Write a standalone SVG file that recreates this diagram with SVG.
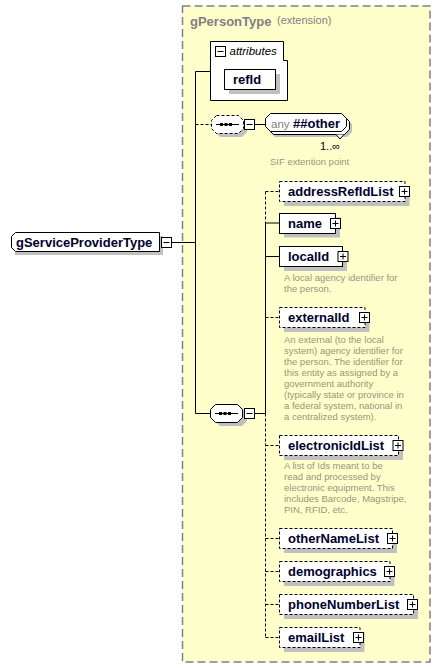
<svg xmlns="http://www.w3.org/2000/svg" width="441" height="669" viewBox="0 0 441 669">
<style>
.lbl{font-family:"Liberation Sans",Arial,sans-serif;font-size:13px;font-weight:bold;fill:#00002e}
.desc{font-family:"Liberation Sans",Arial,sans-serif;font-size:9.5px;fill:#96967a}
.box{fill:#fff;stroke:#000;stroke-width:1}
.dbox{fill:#fff;stroke:#000;stroke-width:1;stroke-dasharray:3,2}
.shadow{fill:#c0c0c0}
.ln{stroke:#000;stroke-width:1;fill:none}
.dl{stroke:#000;stroke-width:1;fill:none;stroke-dasharray:3,2}
.pm{fill:#fff;stroke:#000;stroke-width:1}
</style>
<defs>
<g id="plus"><rect class="pm" x="0.5" y="0.5" width="10" height="10"/><path d="M2.5,5.5H8.5M5.5,2.5V8.5" stroke="#000" stroke-width="1"/></g>
<g id="minus"><rect class="pm" x="0.5" y="0.5" width="10" height="10"/><path d="M2.5,5.5H8.5" stroke="#000" stroke-width="1"/></g>
</defs>

<g id="gPersonType">
<rect x="182.5" y="6" width="247.5" height="656" fill="#ffffcc" stroke="#808080" stroke-width="1.5" stroke-dasharray="8,4"/>
<text x="190" y="26" font-family="Liberation Sans,Arial,sans-serif" font-size="13" font-weight="bold" fill="#808080">gPersonType</text>
<text x="277" y="24" font-family="Liberation Sans,Arial,sans-serif" font-size="11" fill="#808080">(extension)</text>
</g>

<g id="connectors">
<path class="ln" d="M171,242.5H195.5M195.5,71.5V413.5M195.5,71.5H210.5M195.5,413.5H211M255,413.5H265.5M255,124.5H265.5"/>
<path class="dl" d="M195.5,124.5H211"/>
<path class="dl" d="M265.5,191.5V223"/>
<path class="ln" d="M265.5,223V413.5"/>
<path class="dl" d="M265.5,413.5V637.5"/>
<path class="dl" d="M265.5,191.5H279.5"/>
<path class="ln" d="M265.5,223H279.5M265.5,256.5H279.5"/>
<path class="dl" d="M265.5,317.5H279.5M265.5,445.5H279.5M265.5,538.5H279.5M265.5,571.5H279.5M265.5,604.5H279.5M265.5,637.5H279.5"/>
</g>

<g id="gServiceProviderType">
<path class="shadow" d="M19,236H163V255H15V240Z"/>
<path class="box" d="M15.5,232.5H159.5V251.5H15.5L11.5,247.5V236.5Z"/>
<text class="lbl" x="16" y="246.5">gServiceProviderType</text>
<use href="#minus" x="161" y="237"/>
</g>

<g id="attributes">
<path class="box" d="M210.5,41.5H283.5V60.5H287.5V100.5H210.5Z"/>
<use href="#minus" x="215" y="46"/>
<text x="229.5" y="55" font-family="Liberation Sans,Arial,sans-serif" font-size="11.5" font-style="italic" fill="#000">attributes</text>
</g>

<g id="refId">
<rect class="shadow" x="229" y="74" width="51" height="20"/>
<rect class="box" x="224.5" y="69.5" width="51" height="20"/>
<text class="lbl" x="233" y="84">refId</text>
</g>

<g id="sequence1">
<path class="shadow" d="M220,119H242L247,124V132L242,137H220L215,132V124Z"/>
<path class="dbox" d="M216.5,115.5H238.5L243.5,120.5V128.5L238.5,133.5H216.5L211.5,128.5V120.5Z"/>
<path d="M216,124.5H239" stroke="#000" stroke-width="1"/>
<rect x="220" y="123" width="3" height="3" fill="#000"/>
<rect x="224.5" y="123" width="3" height="3" fill="#000"/>
<rect x="229" y="123" width="3" height="3" fill="#000"/>
<use href="#minus" x="244" y="119"/>
</g>

<g id="any">
<path class="shadow" d="M275,119H347L352,124V132L347,137H275L270,132V124Z"/>
<path class="box" d="M273.5,116.5H344.5L349.5,121.5V129.5L344.5,134.5H273.5L268.5,129.5V121.5Z"/>
<path d="M336,134.5L340,139L344,134.5" fill="#fff" stroke="#000" stroke-width="1"/>
<path class="box" d="M270.5,113.5H341.5L346.5,118.5V126.5L341.5,131.5H270.5L265.5,126.5V118.5Z"/>
<text x="271" y="127.5" font-family="Liberation Sans,Arial,sans-serif" font-size="11.5" fill="#808080">any</text>
<text class="lbl" x="293" y="127.5">##other</text>
<text x="320" y="150" font-family="Liberation Sans,Arial,sans-serif" font-size="11" fill="#00002e">1..∞</text>
<text class="desc" x="270" y="165">SIF extention point</text>
</g>

<g id="sequence2">
<path class="shadow" d="M220,408H242L247,413V421L242,426H220L215,421V413Z"/>
<path class="box" d="M215.5,404.5H237.5L242.5,409.5V417.5L237.5,422.5H215.5L210.5,417.5V409.5Z"/>
<path d="M215,413.5H238" stroke="#000" stroke-width="1"/>
<rect x="219" y="412" width="3" height="3" fill="#000"/>
<rect x="223.5" y="412" width="3" height="3" fill="#000"/>
<rect x="228" y="412" width="3" height="3" fill="#000"/>
<use href="#minus" x="244" y="408"/>
</g>

<g id="addressRefIdList">
<rect class="shadow" x="284" y="186" width="125.5" height="20"/>
<rect class="dbox" x="279.5" y="181.5" width="125.5" height="20"/>
<text class="lbl" x="288" y="196">addressRefIdList</text>
<use href="#plus" x="399" y="186"/>
</g>

<g id="name">
<rect class="shadow" x="284" y="217.5" width="56" height="20"/>
<rect class="box" x="279.5" y="213.5" width="56" height="20"/>
<text class="lbl" x="288" y="227.5">name</text>
<use href="#plus" x="330" y="218"/>
</g>

<g id="localId">
<rect class="shadow" x="284" y="251" width="63" height="20"/>
<rect class="box" x="279.5" y="246.5" width="63" height="20"/>
<text class="lbl" x="288" y="261">localId</text>
<use href="#plus" x="337.5" y="251"/>
<text class="desc" x="284" y="281">A local agency identifier for</text>
<text class="desc" x="284" y="292">the person.</text>
</g>

<g id="externalId">
<rect class="shadow" x="284" y="312" width="85.5" height="20"/>
<rect class="dbox" x="279.5" y="307.5" width="85.5" height="20"/>
<text class="lbl" x="288" y="322">externalId</text>
<use href="#plus" x="359" y="312"/>
<text class="desc" x="284" y="342.5">An external (to the local</text>
<text class="desc" x="284" y="353.5">system) agency identifier for</text>
<text class="desc" x="284" y="364.5">the person. The identifier for</text>
<text class="desc" x="284" y="375.5">this entity as assigned by a</text>
<text class="desc" x="284" y="386.5">government authority</text>
<text class="desc" x="284" y="397.5">(typically state or province in</text>
<text class="desc" x="284" y="408.5">a federal system, national in</text>
<text class="desc" x="284" y="419.5">a centralized system).</text>
</g>

<g id="electronicIdList">
<rect class="shadow" x="284" y="440" width="119" height="20"/>
<rect class="dbox" x="279.5" y="435.5" width="119" height="20"/>
<text class="lbl" x="288" y="450">electronicIdList</text>
<use href="#plus" x="392.5" y="440"/>
<text class="desc" x="284" y="468.5">A list of Ids meant to be</text>
<text class="desc" x="284" y="479.5">read and processed by</text>
<text class="desc" x="284" y="490.5">electronic equipment. This</text>
<text class="desc" x="284" y="501.5">includes Barcode, Magstripe,</text>
<text class="desc" x="284" y="512.5">PIN, RFID, etc.</text>
</g>

<g id="otherNameList">
<rect class="shadow" x="284" y="533" width="113" height="20"/>
<rect class="dbox" x="279.5" y="528.5" width="113" height="20"/>
<text class="lbl" x="288" y="543">otherNameList</text>
<use href="#plus" x="387" y="533"/>
</g>

<g id="demographics">
<rect class="shadow" x="284" y="566" width="110.5" height="20"/>
<rect class="dbox" x="279.5" y="561.5" width="110.5" height="20"/>
<text class="lbl" x="288" y="576">demographics</text>
<use href="#plus" x="384" y="566"/>
</g>

<g id="phoneNumberList">
<rect class="shadow" x="284" y="599" width="134" height="20"/>
<rect class="dbox" x="279.5" y="594.5" width="134" height="20"/>
<text class="lbl" x="288" y="609">phoneNumberList</text>
<use href="#plus" x="407" y="599"/>
</g>

<g id="emailList">
<rect class="shadow" x="284" y="632" width="80.5" height="20"/>
<rect class="dbox" x="279.5" y="627.5" width="80.5" height="20"/>
<text class="lbl" x="288" y="642">emailList</text>
<use href="#plus" x="353" y="632"/>
</g>
</svg>
